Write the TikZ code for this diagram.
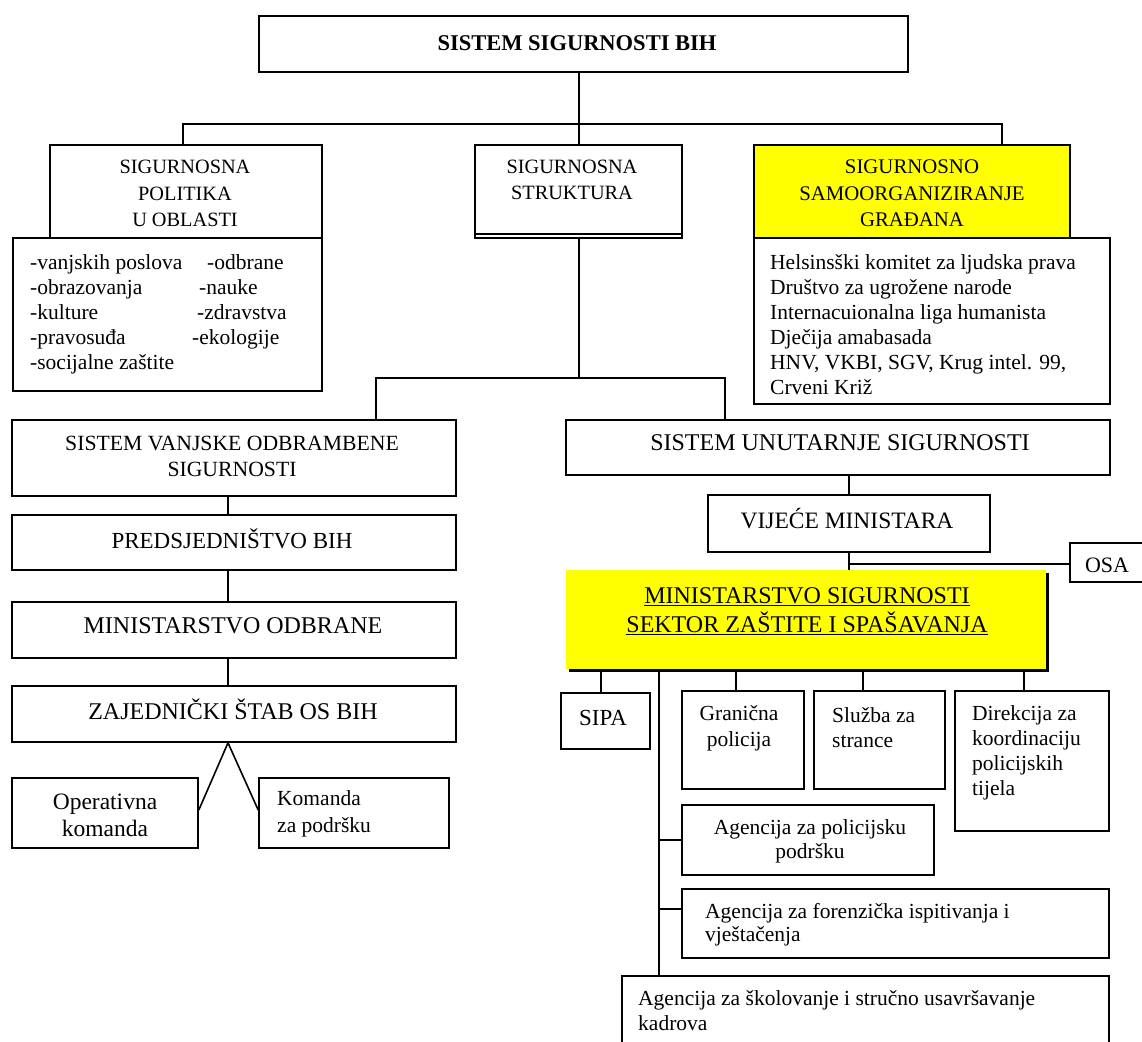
\documentclass[tikz,border=0pt]{standalone}
\usepackage{fontspec}
\setmainfont{Liberation Serif}
\usepackage{tikz}
\usetikzlibrary{calc,shadows}
\definecolor{hiyellow}{RGB}{255,255,0}

\tikzset{
  box/.style={draw, line width=1.6pt, inner sep=0pt},
  conn/.style={line width=1.6pt},
  txt/.style={font=\fontsize{21.5}{25}\selectfont, inner sep=0pt, align=center},
  bigtxt/.style={font=\fontsize{23.5}{27}\selectfont, inner sep=0pt, align=center},
  headtxt/.style={font=\fontsize{20.3}{26.5}\selectfont, inner sep=0pt, align=center},
}

\begin{document}
\begin{tikzpicture}[x=1pt, y=-1pt]
    \useasboundingbox (0,0) rectangle (1142,1041);

    % Top
    \node[box, minimum width=649pt, minimum height=56pt] (top) at (583.5,44) {};
    \node[txt, font=\fontsize{22.5}{26}\selectfont\bfseries] at (577,43) {SISTEM SIGURNOSTI BIH};

    % Sigurnosna politika
    \node[box, minimum width=272pt, minimum height=93pt] (pol) at (186,191.5) {};
    \node[headtxt] at (185,193.5) {SIGURNOSNA\\POLITIKA\\U OBLASTI};
    \node[box, minimum width=309pt, minimum height=153pt] (lst) at (167.5,314.5) {};
    \node[txt, anchor=west, align=left] at (30,314) {%
      \makebox[177pt][l]{-vanjskih poslova}-odbrane\\
      \makebox[169pt][l]{-obrazovanja}-nauke\\
      \makebox[167pt][l]{-kulture}-zdravstva\\
      \makebox[162pt][l]{-pravosuđa}-ekologije\\
      -socijalne zaštite};

    % Sigurnosna struktura
    \node[box, minimum width=207pt, minimum height=93pt] (str) at (578.5,191.5) {};
    \draw[conn] ([yshift=5pt]str.south west) -- ([yshift=5pt]str.south east);
    \node[headtxt] at (572,180) {SIGURNOSNA\\STRUKTURA};

    % Samoorganiziranje
    \node[box, fill=hiyellow, minimum width=316pt, minimum height=93pt] (sam) at (912,191.5) {};
    \node[headtxt, font=\fontsize{20.8}{26.5}\selectfont] at (912,193.5) {SIGURNOSNO\\SAMOORGANIZIRANJE\\GRAĐANA};
    \node[box, minimum width=356pt, minimum height=166pt] (hel) at (932,321) {};
    \node[txt, anchor=west, align=left] at (770,324.5) {Helsinsški komitet za ljudska prava\\
      Društvo za ugrožene narode\\Internacuionalna liga humanista\\Dječija amabasada\\
      HNV, VKBI, SGV, Krug intel. 99,\\Crveni Križ};

    % Vanjska odbrambena sigurnost
    \node[box, minimum width=444pt, minimum height=76pt] (vanj) at (234,458) {};
    \node[txt, font=\fontsize{21.7}{26}\selectfont] at (232,456) {SISTEM VANJSKE ODBRAMBENE\\SIGURNOSTI};
    \node[box, minimum width=444pt, minimum height=55pt] (pred) at (234,542.5) {};
    \node[txt, font=\fontsize{23}{27}\selectfont] at (232,539) {PREDSJEDNIŠTVO BIH};
    \node[box, minimum width=444pt, minimum height=56pt] (mo) at (234,630) {};
    \node[bigtxt, font=\fontsize{24}{27}\selectfont] at (233,626) {MINISTARSTVO ODBRANE};
    \node[box, minimum width=444pt, minimum height=56pt] (zs) at (234,714) {};
    \node[bigtxt, font=\fontsize{24}{27}\selectfont] at (233,709) {ZAJEDNIČKI ŠTAB OS BIH};
    \node[box, minimum width=186pt, minimum height=70pt] (op) at (105,813) {};
    \node[bigtxt] at (105,815.5) {Operativna\\komanda};
    \node[box, minimum width=190pt, minimum height=70pt] (kom) at (354,813) {};
    \node[txt, anchor=west, align=left, font=\fontsize{21.5}{27}\selectfont] at (277,813.5) {Komanda\\za podršku};

    % Unutarnja sigurnost
    \node[box, minimum width=544pt, minimum height=55pt] (unu) at (838,447.5) {};
    \node[bigtxt, font=\fontsize{24}{27}\selectfont] at (840,443) {SISTEM UNUTARNJE SIGURNOSTI};
    \node[box, minimum width=282pt, minimum height=57pt] (vm) at (849,523.5) {};
    \node[bigtxt] at (847,519) {VIJEĆE MINISTARA};
    \node[box, minimum width=80pt, minimum height=39pt] (osa) at (1110,562.5) {};
    \node[txt, font=\fontsize{22}{26}\selectfont] at (1107,565) {OSA};
    \node[fill=hiyellow, general shadow={fill=black, shadow xshift=3pt, shadow yshift=-3pt},
      minimum width=480pt, minimum height=99pt, inner sep=0pt] (ms) at (806,619.5) {};
    \node[bigtxt, font=\fontsize{24}{29}\selectfont] at (807,611.5)
      {\underline{MINISTARSTVO SIGURNOSTI}\\\underline{SEKTOR ZAŠTITE I SPAŠAVANJA}};

    % Sektori ministarstva
    \node[box, minimum width=89pt, minimum height=56pt] (sipa) at (605.5,721) {};
    \node[txt, font=\fontsize{23}{27}\selectfont] at (603,718) {SIPA};
    \node[box, minimum width=122pt, minimum height=98pt] (gr) at (743,740) {};
    \node[txt, font=\fontsize{21.5}{26}\selectfont] at (739,728.5) {Granična\\policija};
    \node[box, minimum width=131pt, minimum height=98pt] (sl) at (879.5,740) {};
    \node[txt, anchor=west, align=left] at (832,727.5) {Služba za\\strance};
    \node[box, minimum width=154pt, minimum height=140pt] (dir) at (1032,761) {};
    \node[txt, anchor=west, align=left] at (972,752.5) {Direkcija za\\koordinaciju\\policijskih\\tijela};
    \node[box, minimum width=252pt, minimum height=70pt] (ap) at (808,840) {};
    \node[txt, font=\fontsize{21.5}{24}\selectfont] at (810,841) {Agencija za policijsku\\podršku};
    \node[box, minimum width=427pt, minimum height=69pt] (af) at (895.5,923.5) {};
    \node[txt, anchor=west, align=left, font=\fontsize{21.5}{23.5}\selectfont] at (705,924.5)
      {Agencija za forenzička ispitivanja i\\vještačenja};
    \node[box, minimum width=487pt, minimum height=74pt] (as) at (865.5,1013) {};
    \node[txt, anchor=west, align=left] at (638,1010.5)
      {Agencija za školovanje i stručno usavršavanje\\kadrova};

    % Connectors, upper part
    \coordinate (j1) at (579,124);
    \draw[conn] (j1 |- top.south) -- (j1 |- str.north);
    \draw[conn] ($(pol.north)+(-3,0)$) |- (j1) -| ($(sam.north)+(90,0)$);
    \coordinate (j2) at (579,378);
    \draw[conn] (j1 |- str.south) -- (j2);
    \draw[conn] ($(vanj.north)+(142,0)$) |- (j2) -| ($(unu.north)+(-113,0)$);

    % Connectors, left
    \draw[conn] ($(vanj.south)+(-6,0)$) -- ($(pred.north)+(-6,0)$);
    \draw[conn] ($(pred.south)+(-6,0)$) -- ($(mo.north)+(-6,0)$);
    \draw[conn] ($(mo.south)+(-6,0)$) -- ($(zs.north)+(-6,0)$);
    \draw[conn] ($(op.east)+(0,-3)$) -- ($(zs.south)+(-6,0)$) -- ($(kom.west)+(0,-3)$);

    % Connectors, right
    \draw[conn] (unu.south -| vm.north) -- (vm.north);
    \draw[conn] (vm.south) -- (vm.south |- ms.north);
    \coordinate (osb) at ($(osa.west)+(0,1.5)$);
    \draw[conn] (vm.south |- osb) -- (osb);
    \foreach \n/\s in {sipa/-4.5, gr/-7, sl/-16.5, dir/-8}
      \draw[conn] ($(\n.north)+(\s,0)$) -- ($(\n.north |- ms.south)+(\s,0)$);
    \coordinate (tr) at (659,669);
    \coordinate (afb) at ($(af.west)+(0,-14.5)$);
    \draw[conn] (tr) -- (tr |- as.north);
    \draw[conn] (tr |- ap.west) -- (ap.west);
    \draw[conn] (tr |- afb) -- (afb);
\end{tikzpicture}
\end{document}
